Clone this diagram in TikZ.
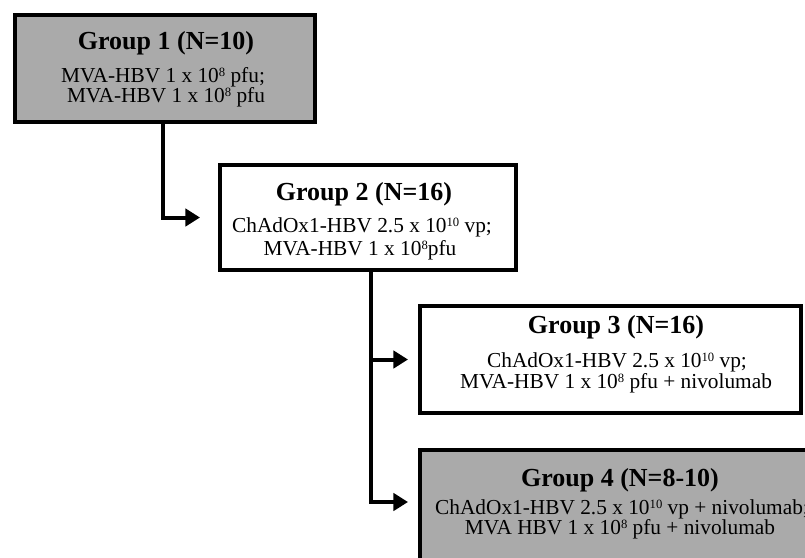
\documentclass[tikz,border=0pt]{standalone}
\usepackage{fontspec}
\setmainfont{Liberation Serif}
\usetikzlibrary{arrows.meta}
\definecolor{boxgray}{RGB}{170,170,170}
\newcommand{\mysup}[1]{\raisebox{4.2pt}{\fontsize{9.5}{9.5}\selectfont #1}}
\tikzset{
  box/.style={draw=black, line width=3pt, rectangle, inner sep=0pt, outer sep=0pt},
  graybox/.style={box, fill=boxgray},
  whitebox/.style={box, fill=white},
  ttl/.style={anchor=base, inner sep=0pt, font=\fontsize{19.5}{22}\selectfont\bfseries},
  txt/.style={anchor=base, inner sep=0pt, font=\fontsize{16}{18}\selectfont},
  conn/.style={draw=black, line width=3pt, line join=miter, -{Triangle[length=11pt,width=13pt]}}
}
\begin{document}
\begin{tikzpicture}[x=0.75pt,y=-0.75pt]
\useasboundingbox (0,0) rectangle (805,557);
\begin{scope}
\clip (0,0) rectangle (805,557);
\node[graybox, minimum width=225pt, minimum height=80.25pt] (b1) at (165,68.5) {};
\node[whitebox, minimum width=222pt, minimum height=78.75pt] (b2) at (368,217.5) {};
\node[whitebox, minimum width=285.75pt, minimum height=80.25pt] (b3) at (610.5,359.5) {};
\node[graybox, minimum width=301.5pt, minimum height=82.5pt] (b4) at (621,505) {};

\node[ttl] (t1a) at (166,49) {Group 1 (N=10)};
\node[txt] (t1b) at (163,82) {MVA-HBV 1 x 10\mysup{8} pfu;};
\node[txt] (t1c) at (166,102) {MVA-HBV 1 x 10\mysup{8} pfu};

\node[ttl] (t2a) at (364,200) {Group 2 (N=16)};
\node[txt] (t2b) at (362,232) {ChAdOx1-HBV 2.5 x 10\mysup{10} vp;};
\node[txt] (t2c) at (360,255) {MVA-HBV 1 x 10\mysup{8}pfu};

\node[ttl] (t3a) at (616,333) {Group 3 (N=16)};
\node[txt] (t3b) at (617,367) {ChAdOx1-HBV 2.5 x 10\mysup{10} vp;};
\node[txt] (t3c) at (616,388) {MVA-HBV 1 x 10\mysup{8} pfu + nivolumab};

\node[ttl] (t4a) at (620,486) {Group 4 (N=8-10)};
\node[txt] (t4b) at (622,514) {ChAdOx1-HBV 2.5 x 10\mysup{10} vp + nivolumab;};
\node[txt] (t4c) at (620,534) {MVA HBV 1 x 10\mysup{8} pfu + nivolumab};

\draw[conn, shorten >=15pt] ([xshift=-1.5pt]b1.south) |- (b2.west);
\draw[conn, shorten >=9pt] ([xshift=2.25pt]b2.south) |- (b3.west);
\draw[conn, shorten >=9pt] ([xshift=2.25pt]b2.south) |- ([yshift=2.25pt]b4.west);
\end{scope}
\end{tikzpicture}
\end{document}
